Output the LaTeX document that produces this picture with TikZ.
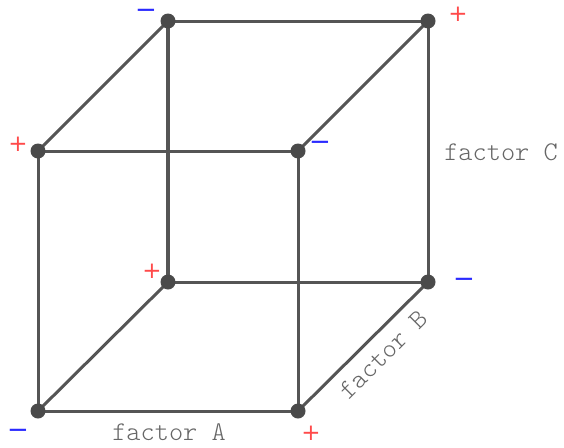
\documentclass[tikz,border=0pt]{standalone}
\usepackage{fontspec}
\newfontfamily\factorfont{Latin Modern Mono Light}
\newfontfamily\signfont{DejaVu Sans}
\definecolor{edgegray}{HTML}{555555}
\definecolor{dotgray}{HTML}{4A4A4A}
\definecolor{txtgray}{HTML}{666666}
\definecolor{plusred}{HTML}{FF4A4A}
\definecolor{minusblue}{HTML}{2A2AFF}
\tikzset{
  edge/.style={draw=edgegray, line width=3pt},
  vert/.style={circle, fill=dotgray, inner sep=0pt, minimum size=15pt},
  pluslbl/.style={text=plusred, font=\signfont\fontsize{23}{23}\selectfont, inner sep=0pt},
  minuslbl/.style={text=minusblue, font=\signfont\fontsize{26}{26}\selectfont, inner sep=0pt},
  factorlbl/.style={text=txtgray, font=\factorfont\fontsize{27}{27}\selectfont, inner sep=0pt}
}
\begin{document}
\begin{tikzpicture}[x=1pt,y=-1pt]
\useasboundingbox (0,0) rectangle (564,447);
% vertices
\coordinate (btl) at (168,21);
\coordinate (btr) at (428,21);
\coordinate (ftl) at (38,151);
\coordinate (ftr) at (298,151);
\coordinate (bbl) at (168,282);
\coordinate (bbr) at (428,282);
\coordinate (fbl) at (38,411);
\coordinate (fbr) at (298,411);
% edges
\draw[edge] (btl) -- (btr);
\draw[edge] (ftl) -- (ftr);
\draw[edge] (bbl) -- (bbr);
\draw[edge] (fbl) -- (fbr);
\draw[edge] (ftl) -- (fbl);
\draw[edge] (ftr) -- (fbr);
\draw[edge] (btr) -- (bbr);
\draw[edge] (btl) -- (ftl);
\draw[edge] (btr) -- (ftr);
\draw[edge] (bbl) -- (fbl);
\draw[edge] (bbr) -- (fbr);
\draw[edge, line width=4pt] (btl) -- (bbl);
% dots
\foreach \v in {btl,btr,ftl,ftr,bbl,bbr,fbl,fbr}
  \node[vert] (d\v) at (\v) {};
% signs
\node[minuslbl] (s1) at (146,14) {−};
\node[pluslbl]  (s2) at (458,14) {+};
\node[pluslbl]  (s3) at (18,144) {+};
\node[minuslbl] (s4) at (320,146) {−};
\node[pluslbl]  (s5) at (152,271) {+};
\node[minuslbl] (s6) at (464,283) {−};
\node[minuslbl] (s7) at (18,434) {−};
\node[pluslbl]  (s8) at (311,433) {+};
% factor labels
\node[factorlbl] (fc) at (501,152) {factor C};
\node[factorlbl] (fa) at (169,432) {factor A};
\node[factorlbl, rotate=45] (fb) at (383,355) {factor B};
\end{tikzpicture}
\end{document}
